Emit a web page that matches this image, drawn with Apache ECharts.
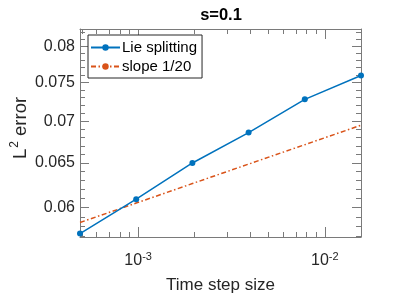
<!DOCTYPE html>
<html><head><meta charset="utf-8">
<script src="https://cdn.jsdelivr.net/npm/echarts@6/dist/echarts.min.js"></script>
<style>html,body{margin:0;padding:0;background:#fff}#c{width:399px;height:299px}</style>
</head><body><div id="c"></div>
<script>
// ---- data ----
const stepSizes = [0.00048828125, 0.0009765625, 0.001953125, 0.00390625, 0.0078125, 0.015625];
const lieErrors = [0.05730, 0.06092, 0.06498, 0.06860, 0.07278, 0.07594];
const slopeRef  = [0.05844, 0.06050, 0.06264, 0.06485, 0.06713, 0.06950];
const xMajorTicks = [0.001, 0.01];
const xMinorTicks = [0.0005, 0.0006, 0.0007, 0.0008, 0.0009, 0.002, 0.003, 0.004, 0.005, 0.006, 0.007, 0.008, 0.009];
const yMajorTicks = [0.06, 0.065, 0.07, 0.075, 0.08];
const yMinorTicks = [0.057, 0.058, 0.059, 0.061, 0.062, 0.063, 0.064, 0.066, 0.067, 0.068, 0.069,
                     0.071, 0.072, 0.073, 0.074, 0.076, 0.077, 0.078, 0.079, 0.081, 0.082];
const xRange = [0.00048828125, 0.015625];
const yRange = [0.05695, 0.0825];
const seriesNames = ['Lie splitting', 'slope 1/20'];

const FONT = '"Liberation Sans", Arial, Helvetica, sans-serif';
const AX = '#7a7a7a';
const TXT = '#262626';

function xAxisDef(pos, ticks, len, showLine, showLabel) {
  return {
    type: 'log', position: pos, min: xRange[0], max: xRange[1],
    axisLine: { show: showLine, lineStyle: { color: AX, width: 1 } },
    axisTick: { show: true, inside: true, length: len, customValues: ticks, lineStyle: { color: AX } },
    minorTick: { show: false },
    splitLine: { show: false },
    axisLabel: showLabel ? {
      show: true, customValues: xMajorTicks, margin: 14,
      formatter: v => '{b|10}{s|' + Math.round(Math.log10(v)) + '}',
      rich: {
        b: { fontSize: 16, lineHeight: 20, fontFamily: FONT, color: TXT },
        s: { fontSize: 11, lineHeight: 11, verticalAlign: 'top', fontFamily: FONT, color: TXT }
      }
    } : { show: false }
  };
}
function yAxisDef(pos, ticks, len, showLine, showLabel) {
  return {
    type: 'log', position: pos, min: yRange[0], max: yRange[1],
    axisLine: { show: showLine, lineStyle: { color: AX, width: 1 } },
    axisTick: { show: true, inside: true, length: len, customValues: ticks, lineStyle: { color: AX } },
    minorTick: { show: false },
    splitLine: { show: false },
    axisLabel: showLabel ? {
      show: true, customValues: yMajorTicks, margin: 5,
      fontSize: 16, fontFamily: FONT, color: TXT,
      formatter: v => String(+(+v).toFixed(3))
    } : { show: false }
  };
}

const chart = echarts.init(document.getElementById('c'), null, { renderer: 'canvas' });
chart.setOption({
  animation: false,
  backgroundColor: '#fff',
  title: {
    text: 's=0.1', left: 221, top: 7, padding: 0, textAlign: 'center',
    textStyle: { fontSize: 16.5, fontWeight: 'bold', fontFamily: FONT, color: '#000' }
  },
  grid: { left: 80, right: 38, top: 29, bottom: 58, containLabel: false },
  legend: {
    orient: 'vertical', left: 88, top: 35,
    data: seriesNames,
    itemWidth: 29, itemHeight: 8, itemGap: 4,
    padding: [5, 5, 4, 2],
    borderColor: TXT, borderWidth: 1, backgroundColor: '#fff', borderRadius: 0,
    textStyle: { fontSize: 15, fontFamily: FONT, color: '#000', padding: [0, 0, 0, -3] }
  },
  xAxis: [
    Object.assign(xAxisDef('bottom', xMajorTicks, 10, true, true), {
      name: 'Time step size', nameLocation: 'middle', nameGap: 40,
      nameTextStyle: { fontSize: 17, fontFamily: FONT, color: TXT }
    }),
    xAxisDef('bottom', xMinorTicks, 5, false, false),
    xAxisDef('top', xMajorTicks, 10, true, false),
    xAxisDef('top', xMinorTicks, 5, false, false)
  ],
  yAxis: [
    yAxisDef('left', yMajorTicks, 9, true, true),
    yAxisDef('left', yMinorTicks, 5, false, false),
    yAxisDef('right', yMajorTicks, 9, true, false),
    yAxisDef('right', yMinorTicks, 5, false, false)
  ],
  series: [
    {
      name: seriesNames[0], type: 'line', xAxisIndex: 0, yAxisIndex: 0,
      data: stepSizes.map((x, i) => [x, lieErrors[i]]),
      color: '#0072BD', symbol: 'circle', symbolSize: 6, showSymbol: true,
      lineStyle: { width: 1.5, color: '#0072BD' }, itemStyle: { color: '#0072BD' }, z: 3
    },
    {
      name: seriesNames[1], type: 'line', xAxisIndex: 0, yAxisIndex: 0,
      data: stepSizes.map((x, i) => [x, slopeRef[i]]),
      color: '#D95319', symbol: 'none',
      lineStyle: { width: 1.5, color: '#D95319', type: [5, 2.5, 1.5, 2.5] }, z: 2
    }
  ],
  graphic: [
    {
      type: 'text', x: 21, y: 128, rotation: Math.PI / 2,
      style: {
        text: '{a|L}{s|2}{a| error}', align: 'center', verticalAlign: 'middle',
        rich: {
          a: { fontSize: 18.5, lineHeight: 24, fontFamily: FONT, fill: TXT },
          s: { fontSize: 12, lineHeight: 12, verticalAlign: 'top', fontFamily: FONT, fill: TXT, padding: [0, 0, 0, 1] }
        }
      }
    }
  ]
});
</script></body></html>
